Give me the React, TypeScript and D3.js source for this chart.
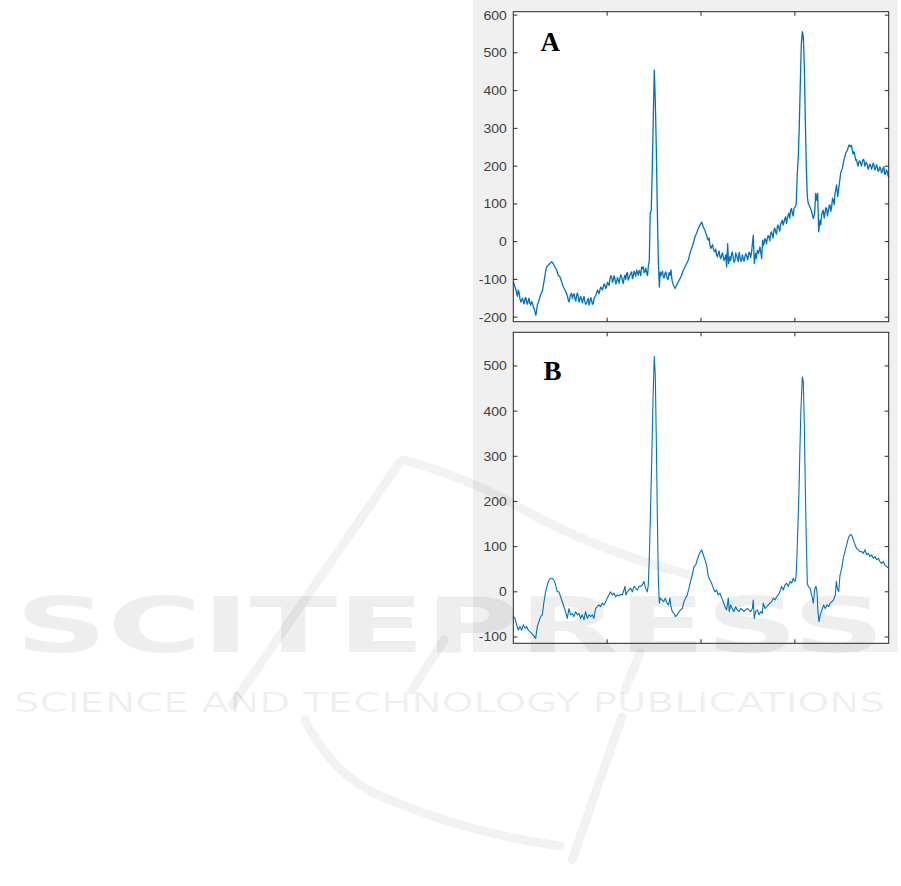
import React from "react";
import * as d3 from "d3";

// ---- Data ----
// Panel A: main trace readings
const tA = [0,1.8,3.5,5.3,7.1,8.9,10.7,12.4,14.2,16,17.7,19.5,21.3,23.1,24.1,25.6,27,28.4,31.2,32.7,34.1,35.5,37.3,39.1,40.8,42.6,44.4,46.2,47.9,49.7,51.5,53.3,55,56.8,58.6,60.4,62.1,63.9,65.7,67.5,69.2,71,72.8,74.6,76.3,78.1,79.9,81.7,83.4,85.2,87,88.8,90.6,92.3,94.1,95.9,97.7,99.4,101.2,103,104.8,106.5,108.3,110.1,111.9,113.6,115.4,117.2,119,120.7,122.5,124.3,126.1,127.8,129.6,131.4,133.2,134.9,136.7,138.5,140.3,142.1,143.8,144.9,145.9,147,148.1,149.2,150.2,151.3,152.4,153.4,154.5,155.6,156.6,158.1,159.8,161.6,163.4,165.2,166.9,168,169.1,170.5,172.3,174,175.8,177.6,179.4,181.2,182.9,184.7,186.5,188.2,190,191.8,193.6,195.3,197.1,198.9,200.7,202.4,204.2,206,207.8,209.5,211.3,213.1,214.9,216.6,218.4,220.2,222,223.7,225.5,227.3,228.4,229.4,230.8,232.6,234.4,236.2,237.9,239.7,241.5,243.3,245,246.8,248.6,250.4,252.1,253.9,255.7,256.8,258.2,260,261.4,262.8,264.6,265.7,267.1,268.9,270.6,272.4,274.2,276,277.7,279.5,281.3,283.1,284.9,286.6,288.4,290.2,292,293.7,295.5,297.3,299.1,300.5,301.5,302.6,303.7,304.7,305.8,306.9,308,309,310.1,311.1,312.2,313.3,314.3,316.1,317.9,319.7,321.1,322.2,323.2,324.3,325.4,326.8,328.5,330.3,332.1,333.9,335.6,337.4,339.2,341,342.8,344.5,345.6,347,348.8,350.5,352.3,354.1,355.9,357.7,359.4,361.2,363,364.8,366.5,368.3,370.1,371.9,373.6,375.4,377.2,379,380.7,382.5,384.3,386.1,387.8,389.6,391.4,393.2,394.9,396.7,398.5,400];
const vA = [-106,-120,-137,-128,-151,-155,-159,-151,-159,-155,-164,-159,-173,-186,-195,-168,-159,-146,-128,-106,-84,-67,-62,-58,-53,-58,-67,-75,-89,-93,-106,-120,-128,-137,-155,-146,-137,-142,-151,-142,-146,-151,-155,-151,-159,-164,-151,-159,-155,-164,-146,-137,-133,-128,-124,-120,-115,-120,-111,-98,-93,-102,-98,-106,-102,-98,-93,-111,-89,-84,-102,-89,-80,-93,-84,-75,-89,-80,-67,-67,-80,-84,-67,-49,75,83,198,331,454,375,242,92,-49,-120,-80,-84,-93,-84,-93,-98,-89,-75,-102,-115,-124,-115,-106,-98,-89,-75,-67,-58,-49,-31,-18,-5,13,22,35,44,52,39,30,17,4,-9,-14,-18,-27,-36,-31,-40,-36,-40,-45,-67,-5,-58,-40,-31,-45,-49,-36,-53,-40,-49,-45,-40,-36,-40,-31,-27,17,-58,-31,-23,-31,-14,-45,4,-5,4,8,13,22,17,30,26,39,35,48,57,52,66,61,75,83,75,88,92,101,181,225,304,419,525,556,543,463,331,198,119,101,92,79,61,75,128,110,128,26,57,70,83,75,88,79,97,92,110,128,150,119,145,181,194,216,234,242,256,251,242,238,216,207,212,207,212,216,207,203,198,203,198,203,194,198,189,194,185,198,180,185,171];
// Panel A: extra readings of the high-frequency jitter in the noisy stretches
const tAJitter = [0.9,2.6,4.4,6.2,8,9.8,11.5,13.3,15.1,16.8,18.6,20.4,22.2,57.7,59.5,61.2,63,64.8,66.6,68.3,70.1,71.9,73.7,75.4,77.2,79,80.8,82.5,84.3,86.1,87.9,89.7,91.4,93.2,95,96.8,98.6,100.3,102.1,103.9,105.7,107.4,109.2,111,112.7,114.5,116.3,118.1,119.8,121.6,123.4,125.2,127,128.7,130.5,132.3,134,135.8,137.6,139.4,141.2,143,157.3,159,160.7,162.5,164.3,166,205.1,206.9,208.6,210.4,212.2,214,215.7,217.5,219.3,221.1,222.8,224.6,226.4,231.7,233.5,235.3,237,238.8,240.6,242.4,244.1,245.9,247.7,249.5,251.2,253,259.1,263.7,266.4,268,269.8,271.5,273.3,275.1,276.8,278.6,280.4,282.2,284,285.7,287.5,289.3,291.1,292.8,294.6,296.4,298.2,327.6,329.4,331.2,333,334.7,336.5,338.3,340.1,341.9,360.3,362.1,363.9,365.6,367.4,369.2,371,372.7,374.5,376.3,378.1,379.8,381.6,383.4,385.2,387,388.7,390.5,392.3,394,395.8,397.6,399.2];
const vAJitter = [-112,-126,-145,-135,-160,-150,-165,-148,-166,-150,-168,-162,-178,-145,-160,-140,-150,-138,-158,-136,-160,-145,-162,-145,-166,-155,-168,-148,-166,-150,-142,-128,-138,-120,-128,-112,-124,-108,-116,-90,-108,-90,-112,-95,-110,-88,-104,-95,-100,-82,-95,-84,-98,-78,-92,-82,-76,-90,-72,-82,-70,-90,-90,-78,-96,-80,-100,-82,22,8,10,-18,-8,-25,-20,-40,-25,-45,-30,-50,-35,-50,-28,-55,-30,-45,-28,-52,-35,-52,-32,-48,-28,-42,-44,-28,-10,8,-6,16,2,26,10,36,20,44,28,50,44,60,48,70,62,88,68,45,80,62,90,68,95,80,115,98,255,232,230,218,200,214,200,218,200,210,192,205,192,208,190,204,186,198,182,195,178,190,176];

// Panel B readings
const tB = [0,1.8,3.5,5.3,7.1,8.9,10.7,12.4,14.2,16,17.7,19.5,21.3,23.8,25.6,27.3,29.1,30.9,32.7,34.4,36.2,38,39.8,41.5,43.3,45.1,46.9,48.6,50.4,52.2,54,55.7,57.5,59.3,61.1,62.8,64.6,66.4,68.2,69.9,71.7,73.5,75.3,77,78.8,80.6,82.4,84.2,85.9,87.7,89.5,91.3,93,94.8,96.6,98.4,100.1,101.9,103.7,105.5,107.2,109,110.8,112.6,114.3,116.1,117.9,119,120,121.5,123.2,125,126.8,128.6,130.3,132.1,133.9,135.7,137.4,139.2,141,142.8,143.8,144.9,146,147.4,148.8,150.2,151.3,152.4,153.4,154.5,155.6,156.6,158.4,160.2,161.9,163.7,165.5,166.9,168,169.4,171.2,172.9,174.7,176.5,178.3,180.1,181.8,183.6,185.4,187.2,188.9,190.7,192.5,194.3,196,197.8,199.6,200.7,202.4,204.2,206,207.8,209.5,211.3,213.1,214.9,216.6,218.4,220.2,222,223.7,225.5,227.3,229.1,230.1,231.6,233.3,235.1,236.9,238.7,240.5,242.2,244,245.8,247.6,249.3,251.1,252.9,254.7,255.7,256.8,258.2,260,261.8,263.5,265.3,266.4,268.2,269.9,271.7,273.5,275.3,277,278.8,280.6,282.4,284.1,285.9,287.7,289.5,291.2,293,294.8,296.6,298.3,300.1,301.2,302.3,303.3,304.4,305.4,306.5,308,309,310.1,311.1,312.2,313.3,314.3,316.1,317.9,319.7,321.4,322.5,323.6,324.6,325.7,327.1,328.9,330.7,332.4,334.2,336,337.8,339.5,341.3,343.1,344.2,345.2,346.7,348.1,349.9,351.6,353.4,355.2,357,358.7,360.5,362.3,364.1,365.8,367.6,369.4,371.2,372.9,374.7,376.5,378.3,380,381.8,383.6,385.4,387.1,388.9,390.7,392.5,394.2,396,397.8,400];
const vB = [-55,-59,-73,-85,-77,-85,-73,-81,-77,-85,-88,-92,-96,-103,-77,-66,-55,-51,-22,0,15,26,30,30,26,15,0,0,-11,-22,-33,-44,-59,-37,-51,-48,-55,-44,-51,-48,-59,-51,-62,-44,-59,-51,-55,-51,-59,-37,-33,-29,-33,-25,-29,-22,-14,-7,0,-7,-3,-11,-7,-9,-6,-7,4,12,-7,0,4,8,0,12,8,4,12,12,15,23,8,0,15,74,163,281,421,521,480,333,178,30,-25,-14,-18,-22,-14,-25,-29,-14,-33,-44,-48,-55,-51,-44,-40,-37,-22,-14,-7,8,23,37,56,59,71,82,89,93,82,71,59,34,26,19,8,0,4,-7,-3,-14,-22,-33,-40,-14,-44,-29,-37,-44,-33,-40,-44,-37,-40,-44,-40,-37,-40,-44,-37,-18,-59,-44,-40,-51,-44,-48,-25,-37,-33,-29,-25,-22,-14,-18,-11,-7,0,12,4,15,19,12,23,19,30,23,30,82,148,222,318,406,476,465,369,237,111,19,12,8,-7,-25,8,12,0,-44,-66,-51,-40,-29,-37,-29,-33,-25,-22,-18,-7,23,8,0,37,52,74,89,104,119,126,126,115,104,96,93,89,89,85,93,82,85,78,82,74,78,71,74,67,63,67,59,56,52];

const yTicksA = [-200, -100, 0, 100, 200, 300, 400, 500, 600];
const yTicksB = [-100, 0, 100, 200, 300, 400, 500];
const xTicks = [100, 200, 300];
const panelLabels = ["A", "B"];
const watermarkMain = "SCITEPRESS";
const watermarkSub = "SCIENCE AND TECHNOLOGY PUBLICATIONS";

const LINE = "#0072BD";
const AXIS = "#262626";
const TICKTXT = "#404040";

const LEFT = 513.3;
const RIGHT = 888.7;

function merge(t1: number[], v1: number[], t2: number[], v2: number[]): [number, number][] {
  const a: [number, number][] = t1.map((t, i) => [t, v1[i]]);
  const b: [number, number][] = t2.map((t, i) => [t, v2[i]]);
  return a.concat(b).sort((p, q) => p[0] - q[0]);
}

type PanelProps = {
  pts: [number, number][];
  yDomain: [number, number];
  yTicks: number[];
  top: number;
  bottom: number;
  label: string;
  labelPos: [number, number];
  strokeW: number;
};

function PanelBack({ top, bottom }: { top: number; bottom: number }) {
  return <rect x={LEFT} y={top} width={RIGHT - LEFT} height={bottom - top} fill="#fff" />;
}

function Panel({ pts, yDomain, yTicks, top, bottom, label, labelPos, strokeW }: PanelProps) {
  const x = d3.scaleLinear().domain([0, 400]).range([LEFT, RIGHT]);
  const y = d3.scaleLinear().domain(yDomain).range([bottom, top]);
  const line = d3
    .line<[number, number]>()
    .x((d) => x(d[0]))
    .y((d) => y(d[1]));
  const tl = 4;
  return (
    <g>
      <path d={line(pts) || ""} fill="none" stroke={LINE} strokeWidth={strokeW} strokeLinejoin="round" />
      <rect x={LEFT} y={top} width={RIGHT - LEFT} height={bottom - top} fill="none" stroke={AXIS} strokeWidth={1} />
      {yTicks.map((tk) => (
        <g key={"y" + tk}>
          <line x1={LEFT} x2={LEFT + tl} y1={y(tk)} y2={y(tk)} stroke={AXIS} strokeWidth={1} />
          <line x1={RIGHT} x2={RIGHT - tl} y1={y(tk)} y2={y(tk)} stroke={AXIS} strokeWidth={1} />
          <text
            transform={`translate(${LEFT - 6.5},${y(tk) + 4.5}) scale(1.12,1)`}
            textAnchor="end"
            fontFamily="'Liberation Sans', Arial, sans-serif"
            fontSize={12.5}
            fill={TICKTXT}
          >
            {tk}
          </text>
        </g>
      ))}
      {xTicks.map((tk) => (
        <g key={"x" + tk}>
          <line x1={x(tk)} x2={x(tk)} y1={bottom} y2={bottom - tl} stroke={AXIS} strokeWidth={1} />
          <line x1={x(tk)} x2={x(tk)} y1={top} y2={top + tl} stroke={AXIS} strokeWidth={1} />
        </g>
      ))}
      <text
        x={labelPos[0]}
        y={labelPos[1]}
        fontFamily="'Liberation Serif', 'Times New Roman', serif"
        fontWeight="bold"
        fontSize={27}
        fill="#000"
      >
        {label}
      </text>
    </g>
  );
}

function Watermark() {
  const c = "#000";
  return (
    <g pointerEvents="none">
      <path
        d="M400,462 L232,705 M403,460 Q470,478 520,508 Q600,552 690,575 M305,720 Q330,770 372,792 Q460,832 560,846 M622,717 L572,860 M444,640 L412,690 M640,653 L625,690"
        fill="none"
        stroke={c}
        strokeOpacity={0.05}
        strokeWidth={9}
        strokeLinecap="round"
      />
      <text
        x={15}
        y={652}
        fontFamily="'DejaVu Sans', sans-serif"
        fontWeight="bold"
        fontSize={76}
        textLength={870}
        lengthAdjust="spacingAndGlyphs"
        fill={c}
        fillOpacity={0.065}
      >
        {watermarkMain}
      </text>
      <text
        x={14}
        y={712}
        fontFamily="'DejaVu Sans', sans-serif"
        fontSize={27}
        textLength={871}
        lengthAdjust="spacingAndGlyphs"
        fill={c}
        fillOpacity={0.065}
      >
        {watermarkSub}
      </text>
    </g>
  );
}

export default function App() {
  const ptsA = merge(tA, vA, tAJitter, vAJitter);
  const ptsB: [number, number][] = tB.map((t, i) => [t, vB[i]]);
  return (
    <svg
      width={901}
      height={886}
      style={{ position: "absolute", left: 0, top: 0, background: "#fff" }}
    >
      <rect x={473} y={0} width={425} height={652} fill="#f0f0f0" />
      <PanelBack top={11.7} bottom={321.7} />
      <PanelBack top={332.3} bottom={643.3} />
      <Watermark />
      <Panel
        pts={ptsA}
        yDomain={[-212, 609]}
        yTicks={yTicksA}
        top={11.7}
        bottom={321.7}
        label={panelLabels[0]}
        labelPos={[540.5, 50.7]}
        strokeW={1.3}
      />
      <Panel
        pts={ptsB}
        yDomain={[-114, 574.5]}
        yTicks={yTicksB}
        top={332.3}
        bottom={643.3}
        label={panelLabels[1]}
        labelPos={[543.5, 380]}
        strokeW={1.1}
      />
    </svg>
  );
}
